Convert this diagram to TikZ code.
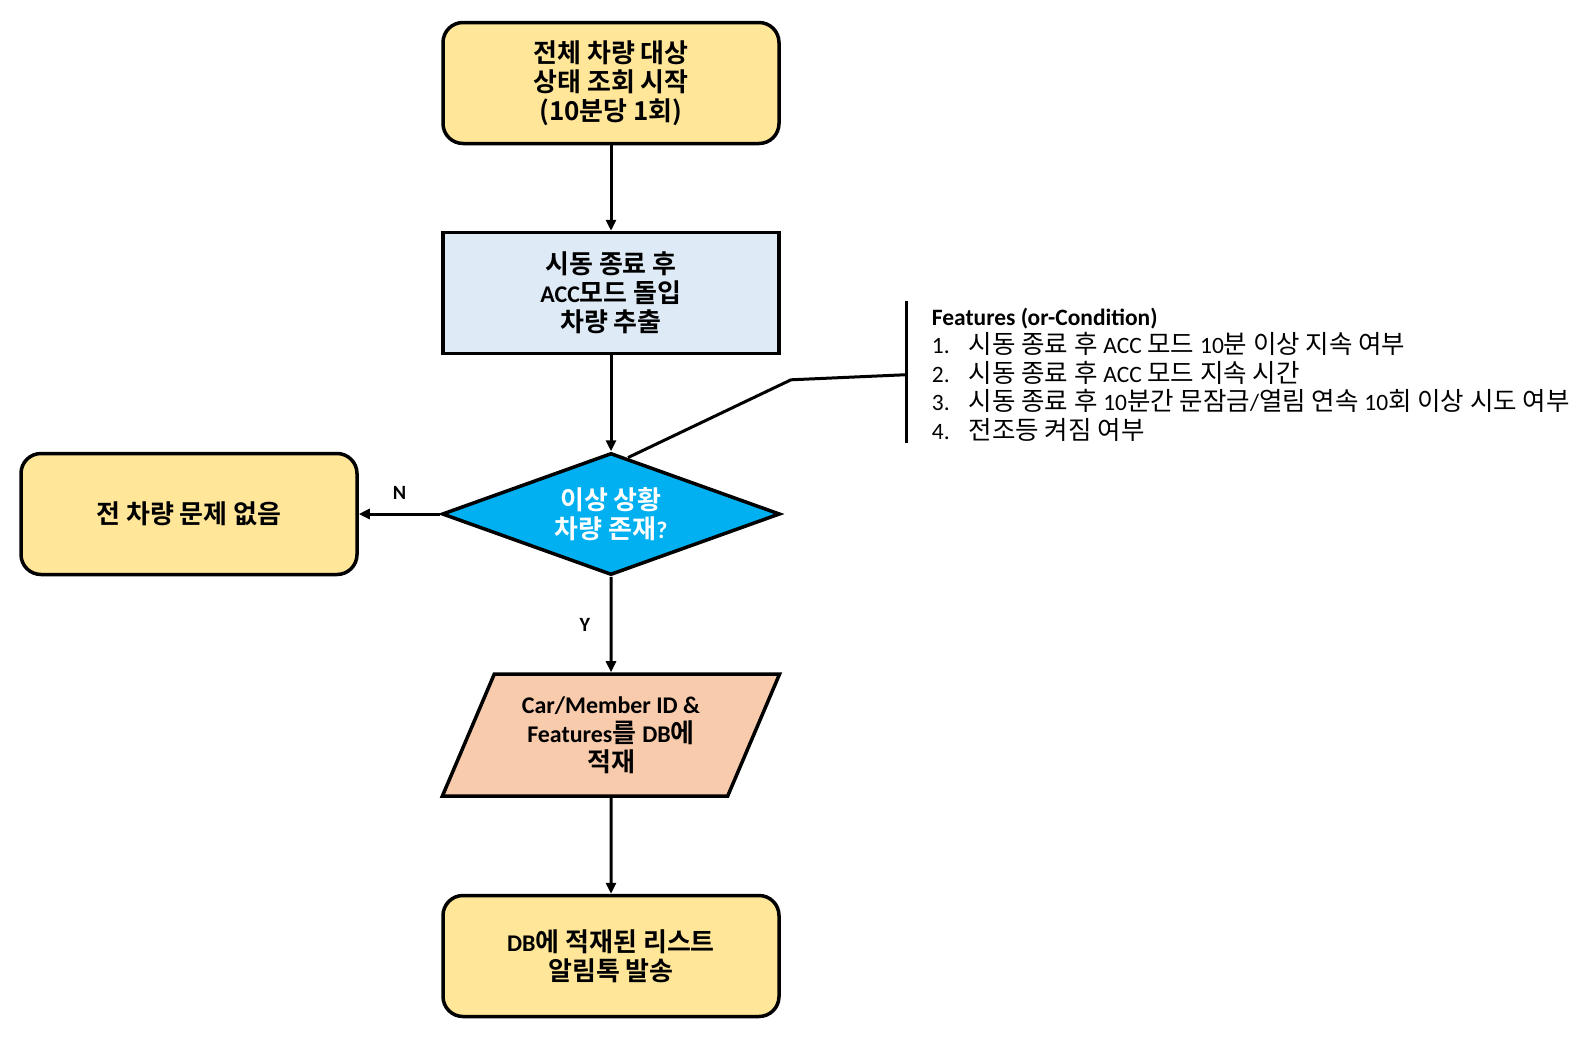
\documentclass[tikz,border=0pt]{standalone}
\usepackage{fontspec}
\setmainfont{Noto Sans CJK KR}[BoldFont={Noto Sans CJK KR Bold}]
\newfontfamily\latf{Carlito}[Scale=0.92]
\newcommand\lat[1]{{\latf #1}}
\usetikzlibrary{shapes.geometric,arrows.meta,calc}
\definecolor{termfill}{HTML}{FFE699}
\definecolor{procfill}{HTML}{DEEBF7}
\definecolor{decfill}{HTML}{00B0F0}
\definecolor{iofill}{HTML}{F8CBAD}
\begin{document}
\begin{tikzpicture}[x=1pt,y=-1pt,
  box/.style={draw, line width=3.5pt, minimum width=336pt, minimum height=121pt,
    align=center, inner sep=0pt, font=\bfseries\fontsize{26}{29}\selectfont},
  term/.style={box, rounded corners=20pt, fill=termfill},
  proc/.style={box, fill=procfill},
  decision/.style={box, diamond, aspect=2.77, minimum width=338pt, minimum height=122pt,
    fill=decfill, text=white},
  iobox/.style={box, trapezium, trapezium left angle=62.8, trapezium right angle=117.2,
    trapezium stretches=true, minimum width=338pt, minimum height=122pt, fill=iofill},
  flow/.style={line width=3pt, -{Triangle[length=11pt,width=10pt]}},
  lbl/.style={font=\latf\bfseries\fontsize{22}{24}\selectfont},
  featline/.style={line width=3pt}
]
\useasboundingbox (0,0) rectangle (1588,1058);

\node[term] (start) at (611,83) {전체 차량 대상\\상태 조회 시작\\(10분당 1회)};
\node[proc] (extract) at (611,293) {시동 종료 후\\\lat{ACC}모드 돌입\\차량 추출};
\node[decision] (check) at (611,514) {이상 상황\\차량 존재\lat{?}};
\node[term] (none) at (189,514) {전 차량 문제 없음};
\node[iobox] (store) at (611,735) {\lat{Car/Member ID \&}\\\lat{Features}를 \lat{DB}에\\적재};
\node[term] (notify) at (611,956) {\lat{DB}에 적재된 리스트\\알림톡 발송};

\draw[flow] (start) -- (extract);
\draw[flow] (extract) -- (check);
\draw[flow] (check.west) -- node[lbl, midway, above=10pt] {N} (none.east);
\draw[flow] (check.south) -- node[lbl, midway, left=16pt] {Y} (store.north);
\draw[flow] (store.south) -- (notify.north);

% bracket holding the feature list
\coordinate (btop) at (906.4,300.8);
\coordinate (bbot) at (906.4,442.6);
\coordinate (bmid) at (906.4,374.7);
\coordinate (bend) at (791,379.8);
\draw[featline] (btop) -- (bbot);
\draw[featline] ($(check.north)!0.1!(check.east)$) -- (bend) -- (bmid);

\node[anchor=west, align=left, inner sep=0pt,
  font=\fontsize{25.5}{28.5}\selectfont] (feat) at (931.7,374.7)
{\lat{\bfseries Features (or-Condition)}\\
\makebox[37pt][l]{\lat{1.}}시동 종료 후 \lat{ACC} 모드 \lat{10}분 이상 지속 여부\\
\makebox[37pt][l]{\lat{2.}}시동 종료 후 \lat{ACC} 모드 지속 시간\\
\makebox[37pt][l]{\lat{3.}}시동 종료 후 \lat{10}분간 문잠금\lat{/}열림 연속 \lat{10}회 이상 시도 여부\\
\makebox[37pt][l]{\lat{4.}}전조등 켜짐 여부};
\end{tikzpicture}
\end{document}
